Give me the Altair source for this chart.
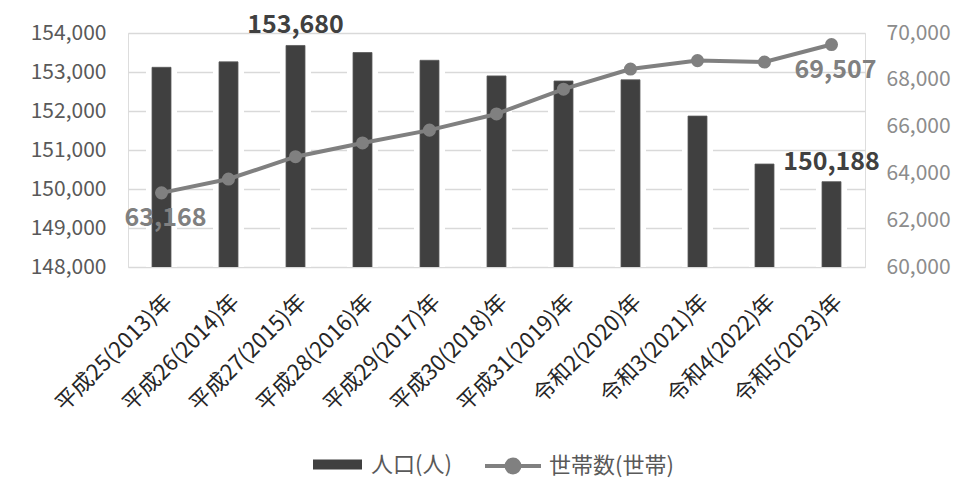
import altair as alt
import pandas as pd

years = ["平成25(2013)年", "平成26(2014)年", "平成27(2015)年", "平成28(2016)年",
         "平成29(2017)年", "平成30(2018)年", "平成31(2019)年", "令和2(2020)年",
         "令和3(2021)年", "令和4(2022)年", "令和5(2023)年"]
population = [153120, 153260, 153680, 153500, 153300, 152900, 152770, 152800, 151870, 150640, 150188]
households = [63168, 63760, 64714, 65300, 65850, 66540, 67600, 68460, 68820, 68760, 69507]
pop_labels = ["", "", "153,680", "", "", "", "", "", "", "", "150,188"]
hh_labels = ["63,168", "", "", "", "", "", "", "", "", "", "69,507"]
left_ticks = [148000, 149000, 150000, 151000, 152000, 153000, 154000]
right_ticks = [60000, 62000, 64000, 66000, 68000, 70000]
series_names = ["人口(人)", "世帯数(世帯)"]

df = pd.DataFrame({"year": years, "pop": population, "hh": households,
                   "pop_label": pop_labels, "hh_label": hh_labels})

FONT = "Noto Sans CJK JP"

x = alt.X("year:N", sort=years, scale=alt.Scale(paddingInner=0, paddingOuter=0),
          axis=alt.Axis(title=None, labelAngle=-45, labelFontSize=22, labelColor="#262626",
                        labelFont=FONT, ticks=False, domain=False, labelPadding=24, grid=False))

y_left = alt.Y("pop:Q", scale=alt.Scale(domain=[148000, 154000], nice=False, zero=False),
               axis=alt.Axis(title=None, values=left_ticks, format=",.0f", labelFontSize=21,
                             labelColor="#595959", labelFont=FONT, grid=True, gridColor="#d9d9d9",
                             gridWidth=1.5, domain=False, ticks=False, labelPadding=22))

y_right = alt.Y("hh:Q", scale=alt.Scale(domain=[60000, 70000], nice=False, zero=False),
                axis=alt.Axis(title=None, orient="right", values=right_ticks, format=",.0f",
                              labelFontSize=21, labelColor="#8c8c8c", labelFont=FONT, grid=False,
                              domain=False, ticks=False, labelPadding=21))

base = alt.Chart(df)

halo = base.mark_bar(size=31, color="white", clip=True).encode(x=x, y=y_left)

bars = base.mark_bar(size=19, stroke="#5a5a5a", strokeWidth=0.8, clip=True).transform_calculate(
    series=f"'{series_names[0]}'").encode(
    x=x, y=y_left,
    color=alt.Color("series:N",
                    scale=alt.Scale(domain=[series_names[0]], range=["#404040"]),
                    legend=alt.Legend(title=None, orient="none", legendX=185, legendY=407,
                                      symbolType="M-1,-0.2H1V0.2H-1Z", symbolSize=2401,
                                      symbolStrokeWidth=0, symbolFillColor="#404040",
                                      labelFontSize=22, labelColor="#595959", labelFont=FONT,
                                      labelOffset=9, padding=0)))

bar_text = base.mark_text(dy=-12, baseline="alphabetic", fontSize=25, fontWeight="bold",
                          color="#404040", font=FONT).encode(
    x=x, y=y_left, text="pop_label:N").transform_filter("datum.pop_label != ''")

left = alt.layer(halo, bars, bar_text)

line = base.mark_line(strokeWidth=4).transform_calculate(
    series=f"'{series_names[1]}'").encode(
    x=x, y=y_right,
    color=alt.Color("series:N",
                    scale=alt.Scale(domain=[series_names[1]], range=["#808080"]),
                    legend=alt.Legend(title=None, orient="none", legendX=355, legendY=403,
                                      symbolType="M-1,0H1M0.23,0A0.23,0.23,0,1,1,-0.23,0A0.23,0.23,0,1,1,0.23,0",
                                      symbolSize=3136, symbolStrokeWidth=4,
                                      symbolStrokeColor="#808080", symbolFillColor="#808080",
                                      labelFontSize=22, labelColor="#595959", labelFont=FONT,
                                      labelOffset=6, padding=0)))

points = base.mark_point(filled=True, size=170, opacity=1, color="#808080").encode(x=x, y=y_right)

hh_text = base.mark_text(dy=33, dx=4, baseline="alphabetic", fontSize=25, fontWeight="bold",
                         color="#808080", font=FONT).encode(
    x=x, y=y_right, text="hh_label:N").transform_filter("datum.hh_label != ''")

right = alt.layer(line, points, hh_text)

chart = alt.layer(left, right).resolve_scale(y="independent", color="independent").properties(
    width=737, height=234,
    autosize=alt.AutoSizeParams(type="none"),
    padding={"left": 120, "top": 25, "right": 105, "bottom": 215},
).configure_view(stroke=None).configure(font=FONT)

chart.save("out.html", embed_options={"renderer": "svg", "actions": False})
